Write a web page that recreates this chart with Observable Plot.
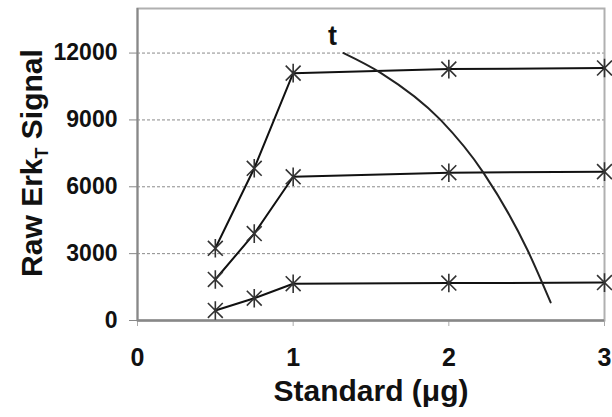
<!DOCTYPE html>
<html>
<head>
<meta charset="utf-8">
<script src="https://cdn.jsdelivr.net/npm/d3@7"></script>
<script src="https://cdn.jsdelivr.net/npm/@observablehq/plot@0.6"></script>
<style>
  body { margin: 0; background: #fff; }
  svg { font-family: "Liberation Sans", Arial, sans-serif; }
</style>
</head>
<body>
<div id="chart"></div>
<script>
// Standard amounts (µg)
const standard = [0.5, 0.75, 1, 2, 3];
// Raw ErkT signal, three series
const seriesHigh = [3240, 6830, 11100, 11280, 11330];
const seriesMid = [1840, 3900, 6450, 6630, 6680];
const seriesLow = [450, 1000, 1650, 1680, 1700];
// curve labelled "t"
const curveT_x = [1.324, 1.562, 1.947, 2.224, 2.506, 2.654];
const curveT_y = [12000, 11115, 9000, 6615, 3150, 810];
const curveLabel = [{x: 1.253, y: 12750, text: "t"}];
// ticks
const xTicks = [0, 1, 2, 3];
const yTicks = [0, 3000, 6000, 9000, 12000];

const series = [seriesHigh, seriesMid, seriesLow];
const points = series.flatMap((vals, s) => vals.map((v, i) => ({s, x: standard[i], y: v})));
const tcurve = curveT_x.map((x, i) => ({x, y: curveT_y[i]}));

// star marker: an X with a vertical bar
const star = {
  draw(context, size) {
    const r = Math.sqrt(size) / 2;
    const d = r * 0.8;
    context.moveTo(0, -r); context.lineTo(0, r);
    context.moveTo(-d, -d); context.lineTo(d, d);
    context.moveTo(-d, d); context.lineTo(d, -d);
  }
};

const svg = Plot.plot({
  width: 612,
  height: 417,
  marginLeft: 137,
  marginRight: 8,
  marginTop: 8,
  marginBottom: 97,
  x: {domain: [0, 3]},
  y: {domain: [0, 14000]},
  marks: [
    Plot.gridY(yTicks.filter(d => d > 0), {stroke: "#8a8a8a", strokeOpacity: 1, strokeDasharray: "3,2", strokeWidth: 1}),
    Plot.frame({stroke: "#b0b0b0", strokeWidth: 2}),
    Plot.axisY({ticks: yTicks, tickFormat: d => String(d), tickSize: 8, tickPadding: 12, fontSize: 23, fontWeight: "bold", label: null, stroke: "#888", color: "#111"}),
    Plot.axisX({ticks: xTicks, tickFormat: d => String(d), tickSize: 6, tickPadding: 22, fontSize: 25, fontWeight: "bold", label: null, stroke: "#aaa", color: "#111"}),
    Plot.ruleX([0], {stroke: "#888", strokeWidth: 2}),
    Plot.ruleY([0], {stroke: "#888", strokeWidth: 2.5}),
    Plot.line(points, {x: "x", y: "y", z: "s", stroke: "#111", strokeWidth: 2}),
    Plot.dot(points, {x: "x", y: "y", symbol: star, r: 10.5, stroke: "#333", strokeWidth: 1.6}),
    Plot.line(tcurve, {x: "x", y: "y", curve: "monotone-x", stroke: "#222", strokeWidth: 2}),
    Plot.text(curveLabel, {x: "x", y: "y", text: "text", fontSize: 27, fontWeight: "bold", fill: "#111"}),
    Plot.text(["Standard (μg)"], {frameAnchor: "bottom", dy: 59, fontSize: 30, fontWeight: "bold", fill: "#111", lineAnchor: "top"})
  ]
});

const yt = d3.select(svg).append("text")
  .attr("transform", "translate(42,163) rotate(-90)")
  .attr("text-anchor", "middle")
  .attr("font-size", 30)
  .attr("font-weight", "bold")
  .attr("fill", "#111");
yt.append("tspan").text("Raw Erk");
yt.append("tspan").attr("font-size", 18).attr("dy", 6).text("T");
yt.append("tspan").attr("dy", -6).text(" Signal");

document.getElementById("chart").appendChild(svg);
</script>
</body>
</html>
